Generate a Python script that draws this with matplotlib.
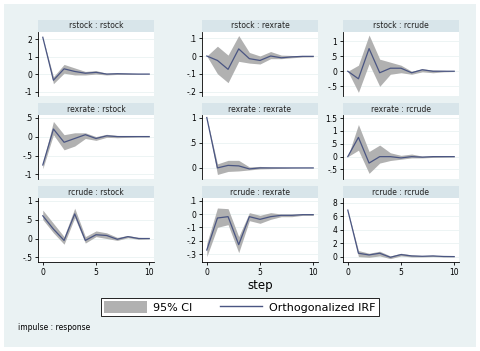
import matplotlib
matplotlib.use("Agg")
import matplotlib.pyplot as plt
from matplotlib.patches import Rectangle, Patch
from matplotlib.lines import Line2D

steps = list(range(11))

titles = [
    "rstock : rstock", "rstock : rexrate", "rstock : rcrude",
    "rexrate : rstock", "rexrate : rexrate", "rexrate : rcrude",
    "rcrude : rstock", "rcrude : rexrate", "rcrude : rcrude",
]

irf_rstock_rstock = [2.1, -0.35, 0.3, 0.15, 0.05, 0.1, 0.0, 0.02, 0.01, 0.0, 0.0]
lo_rstock_rstock = [2.1, -0.55, 0.05, -0.05, -0.05, 0.0, -0.05, -0.02, -0.02, -0.01, -0.01]
hi_rstock_rstock = [2.1, -0.15, 0.55, 0.35, 0.15, 0.2, 0.05, 0.06, 0.04, 0.02, 0.01]

irf_rstock_rexrate = [0.0, -0.025, -0.075, 0.04, -0.015, -0.025, 0.0, -0.01, -0.005, -0.002, -0.002]
lo_rstock_rexrate = [0.0, -0.1, -0.15, -0.03, -0.04, -0.045, -0.015, -0.015, -0.01, -0.006, -0.005]
hi_rstock_rexrate = [0.0, 0.055, 0.005, 0.115, 0.02, 0.0, 0.025, 0.005, 0.003, 0.002, 0.001]

irf_rstock_rcrude = [0.0, -0.25, 0.75, -0.05, 0.1, 0.1, -0.05, 0.05, 0.0, 0.0, 0.0]
lo_rstock_rcrude = [0.0, -0.7, 0.25, -0.5, -0.1, -0.05, -0.1, -0.02, -0.05, -0.02, -0.01]
hi_rstock_rcrude = [0.0, 0.2, 1.2, 0.4, 0.3, 0.2, 0.0, 0.08, 0.04, 0.03, 0.01]

irf_rexrate_rstock = [-0.75, 0.2, -0.15, -0.05, 0.05, -0.05, 0.02, 0.0, 0.0, 0.0, 0.0]
lo_rexrate_rstock = [-0.85, 0.05, -0.35, -0.25, -0.05, -0.1, -0.02, -0.03, -0.02, -0.01, -0.01]
hi_rexrate_rstock = [-0.7, 0.4, 0.05, 0.1, 0.1, 0.0, 0.06, 0.03, 0.02, 0.01, 0.01]

irf_rexrate_rexrate = [1.0, 0.0, 0.05, 0.04, -0.02, 0.0, 0.0, 0.0, 0.0, 0.0, 0.0]
lo_rexrate_rexrate = [1.0, -0.13, -0.07, -0.06, -0.04, -0.02, -0.015, -0.01, -0.005, -0.003, -0.002]
hi_rexrate_rexrate = [1.0, 0.08, 0.15, 0.15, 0.02, 0.03, 0.015, 0.01, 0.005, 0.003, 0.002]

irf_rexrate_rcrude = [0.0, 0.75, -0.25, 0.0, 0.0, -0.05, 0.0, -0.02, 0.0, 0.0, 0.0]
lo_rexrate_rcrude = [0.0, 0.25, -0.65, -0.25, -0.15, -0.1, -0.05, -0.05, -0.03, -0.02, -0.01]
hi_rexrate_rcrude = [0.0, 1.25, 0.2, 0.45, 0.15, 0.05, 0.1, 0.02, 0.03, 0.02, 0.01]

irf_rcrude_rstock = [0.6, 0.25, -0.05, 0.65, -0.05, 0.1, 0.08, -0.02, 0.05, 0.0, 0.0]
lo_rcrude_rstock = [0.5, 0.15, -0.15, 0.55, -0.12, 0.05, 0.0, -0.05, 0.02, -0.02, -0.01]
hi_rcrude_rstock = [0.75, 0.4, 0.05, 0.8, 0.05, 0.2, 0.15, 0.03, 0.08, 0.03, 0.02]

irf_rcrude_rexrate = [-0.27, -0.03, -0.02, -0.23, -0.02, -0.04, -0.02, -0.01, -0.01, -0.005, -0.005]
lo_rcrude_rexrate = [-0.32, -0.1, -0.08, -0.29, -0.05, -0.07, -0.04, -0.02, -0.02, -0.01, -0.01]
hi_rcrude_rexrate = [-0.22, 0.045, 0.04, -0.17, 0.01, -0.01, 0.01, 0.0, 0.0, 0.0, 0.0]

irf_rcrude_rcrude = [6.9, 0.5, 0.25, 0.5, -0.1, 0.3, 0.1, 0.05, 0.1, 0.02, 0.0]
lo_rcrude_rcrude = [6.9, 0.0, -0.1, 0.1, -0.3, 0.1, -0.05, -0.05, 0.0, -0.05, -0.03]
hi_rcrude_rcrude = [6.9, 0.9, 0.5, 0.8, 0.1, 0.5, 0.25, 0.15, 0.2, 0.08, 0.03]

irfs = [irf_rstock_rstock, irf_rstock_rexrate, irf_rstock_rcrude,
        irf_rexrate_rstock, irf_rexrate_rexrate, irf_rexrate_rcrude,
        irf_rcrude_rstock, irf_rcrude_rexrate, irf_rcrude_rcrude]
los = [lo_rstock_rstock, lo_rstock_rexrate, lo_rstock_rcrude,
       lo_rexrate_rstock, lo_rexrate_rexrate, lo_rexrate_rcrude,
       lo_rcrude_rstock, lo_rcrude_rexrate, lo_rcrude_rcrude]
his = [hi_rstock_rstock, hi_rstock_rexrate, hi_rstock_rcrude,
       hi_rexrate_rstock, hi_rexrate_rexrate, hi_rexrate_rcrude,
       hi_rcrude_rstock, hi_rcrude_rexrate, hi_rcrude_rcrude]

yticks = [
    ([-1, 0, 1, 2], ["-1", "0", "1", "2"]),
    ([-0.2, -0.1, 0, 0.1], ["-.2", "-.1", "0", ".1"]),
    ([-0.5, 0, 0.5, 1], ["-.5", "0", ".5", "1"]),
    ([-1, -0.5, 0, 0.5], ["-1", "-.5", "0", ".5"]),
    ([0, 0.5, 1], ["0", ".5", "1"]),
    ([-0.5, 0, 0.5, 1, 1.5], ["-.5", "0", ".5", "1", "1.5"]),
    ([-0.5, 0, 0.5, 1], ["-.5", "0", ".5", "1"]),
    ([-0.3, -0.2, -0.1, 0, 0.1], ["-.3", "-.2", "-.1", "0", ".1"]),
    ([0, 2, 4, 6, 8], ["0", "2", "4", "6", "8"]),
]
ylims = [(-1.25, 2.4), (-0.225, 0.135), (-0.82, 1.3),
         (-1.12, 0.57), (-0.22, 1.05), (-0.87, 1.62),
         (-0.62, 1.07), (-0.36, 0.12), (-0.8, 8.7)]

BG = "#eaf2f3"
BAR = "#d8e5ea"
LINE = "#4a5582"
CI = "#b1b1b1"

W, H = 480, 351
fig = plt.figure(figsize=(4.8, 3.51), dpi=100)
fig.patch.set_facecolor("white")
fig.patches.append(Rectangle((4 / W, 4 / H), 472 / W, 343 / H,
                             transform=fig.transFigure, facecolor=BG,
                             edgecolor="none", zorder=-10))

col_x = [38, 202, 343]
col_w = 116
row_top = [32, 115, 198]
row_h = 64
bar_h = 12

for i in range(9):
    r, c = divmod(i, 3)
    x0 = col_x[c]
    y0 = row_top[r]
    ax = fig.add_axes([x0 / W, 1 - (y0 + row_h) / H, col_w / W, row_h / H])
    ax.set_facecolor("white")
    ax.fill_between(steps, los[i], his[i], color=CI, linewidth=0)
    ax.plot(steps, irfs[i], color=LINE, linewidth=0.9)
    ax.set_xlim(-0.45, 10.45)
    ax.set_ylim(*ylims[i])
    ax.set_yticks(yticks[i][0])
    ax.set_yticklabels(yticks[i][1])
    ax.yaxis.grid(True, color=BG, linewidth=0.6)
    ax.set_axisbelow(True)
    for s in ["top", "right"]:
        ax.spines[s].set_visible(False)
    ax.spines["left"].set_linewidth(0.6)
    ax.tick_params(axis="y", labelsize=5.5, length=2.5, width=0.6, pad=1.5)
    if r == 2:
        ax.set_xticks([0, 5, 10])
        ax.spines["bottom"].set_linewidth(0.6)
        ax.tick_params(axis="x", labelsize=5.5, length=2.5, width=0.6, pad=1.5)
    else:
        ax.set_xticks([])
        ax.spines["bottom"].set_visible(False)
    # title bar
    fig.patches.append(Rectangle((x0 / W, 1 - y0 / H), col_w / W, bar_h / H,
                                 transform=fig.transFigure, facecolor=BAR,
                                 edgecolor="none"))
    fig.text((x0 + col_w / 2) / W, 1 - (y0 - bar_h / 2) / H, titles[i],
             ha="center", va="center", fontsize=5.5, color="#222222")

fig.text((col_x[1] + col_w / 2) / W, 1 - 285 / H, "step",
         ha="center", va="center", fontsize=8.5)

handles = [Patch(facecolor=CI, edgecolor="none"),
           Line2D([0], [0], color=LINE, linewidth=1)]
leg = fig.legend(handles, ["95% CI", "Orthogonalized IRF"], ncol=2,
                 loc="center", bbox_to_anchor=(240 / W, 1 - 307 / H),
                 fontsize=8, frameon=True, fancybox=False, edgecolor="black",
                 framealpha=1, handlelength=3.8, handleheight=1.2,
                 columnspacing=2.5, borderpad=0.3, handletextpad=0.6)
leg.get_frame().set_linewidth(0.6)

fig.text(18 / W, 1 - 327 / H, "impulse : response", ha="left", va="center",
         fontsize=5.5)

fig.savefig("out.png", dpi=100)
